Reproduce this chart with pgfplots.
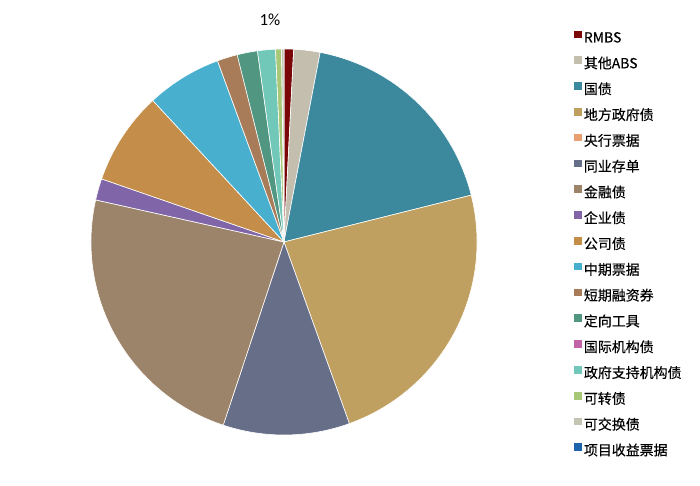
\documentclass[border=0pt]{standalone}
\usepackage{pgfplots}
\pgfplotsset{compat=1.18}
\usepackage{fontspec}
\setmainfont{Noto Sans CJK SC}
\newfontfamily\legfont{Noto Sans CJK SC}[UprightFeatures={FakeBold=0.3}]
\newfontfamily\carlito{Carlito}
\definecolor{cRMBS}{RGB}{122,6,8}
\definecolor{cABS}{RGB}{196,190,174}
\definecolor{cGZ}{RGB}{60,137,158}
\definecolor{cDF}{RGB}{192,160,96}
\definecolor{cYH}{RGB}{232,160,112}
\definecolor{cTY}{RGB}{102,110,136}
\definecolor{cJR}{RGB}{156,132,106}
\definecolor{cQY}{RGB}{128,102,168}
\definecolor{cGS}{RGB}{196,142,74}
\definecolor{cZQ}{RGB}{72,176,206}
\definecolor{cDQ}{RGB}{168,124,88}
\definecolor{cDX}{RGB}{80,150,128}
\definecolor{cGJ}{RGB}{194,98,168}
\definecolor{cZF}{RGB}{114,200,184}
\definecolor{cKZ}{RGB}{168,200,120}
\definecolor{cKJ}{RGB}{196,196,178}
\definecolor{cXM}{RGB}{30,100,170}
\begin{document}
\begin{tikzpicture}
\begin{axis}[
  x=1bp, y=1bp, scale only axis,
  xmin=-284, xmax=416, ymin=-244, ymax=242,
  hide axis, clip=false,
  legend style={at={(axis cs:290,211.5)}, anchor=north west, draw=none, fill=none,
    inner sep=0pt, outer sep=0pt, row sep=11.8bp,
    font=\legfont\fontsize{14}{16}\selectfont,
    nodes={inner sep=0pt, outer sep=0pt, text height=12bp, text depth=2bp}},
  legend cell align=left,
  legend image code/.code={\fill[#1] (0bp,0bp) rectangle (6.7bp,6.7bp); \path (9.5bp,0bp);},
]
\path (axis cs:-284,-244) rectangle (axis cs:416,242);
\gdef\cumangle{90}
% value (percent) / colour, clockwise from 12 o'clock
\foreach \v/\c in {0.8/cRMBS, 2.2/cABS, 18.1/cGZ, 23.4/cDF, 0/cYH, 10.6/cTY,
                   23.4/cJR, 1.8/cQY, 7.8/cGS, 6.3/cZQ, 1.7/cDQ, 1.7/cDX, 0/cGJ,
                   1.5/cZF, 0.5/cKZ, 0.2/cKJ, 0/cXM}{
  \pgfmathsetmacro{\a}{\cumangle}
  \pgfmathsetmacro{\b}{\cumangle - 3.6*\v}
  \ifdim \v pt>0pt
    \edef\cmd{\noexpand\fill[\c, draw=white, line width=0.6bp] (axis cs:0,0) -- ++(\a:193bp) arc[start angle=\a, end angle=\b, radius=193bp] -- cycle;}
    \cmd
  \fi
  \xdef\cumangle{\b}
}
\node[font=\carlito\fontsize{17}{19}\selectfont] at (axis cs:-14,222) {1\%};
\addlegendimage{cRMBS}\addlegendentry{RMBS}
\addlegendimage{cABS}\addlegendentry{其他ABS}
\addlegendimage{cGZ}\addlegendentry{国债}
\addlegendimage{cDF}\addlegendentry{地方政府债}
\addlegendimage{cYH}\addlegendentry{央行票据}
\addlegendimage{cTY}\addlegendentry{同业存单}
\addlegendimage{cJR}\addlegendentry{金融债}
\addlegendimage{cQY}\addlegendentry{企业债}
\addlegendimage{cGS}\addlegendentry{公司债}
\addlegendimage{cZQ}\addlegendentry{中期票据}
\addlegendimage{cDQ}\addlegendentry{短期融资券}
\addlegendimage{cDX}\addlegendentry{定向工具}
\addlegendimage{cGJ}\addlegendentry{国际机构债}
\addlegendimage{cZF}\addlegendentry{政府支持机构债}
\addlegendimage{cKZ}\addlegendentry{可转债}
\addlegendimage{cKJ}\addlegendentry{可交换债}
\addlegendimage{cXM}\addlegendentry{项目收益票据}
\end{axis}
\end{tikzpicture}
\end{document}
